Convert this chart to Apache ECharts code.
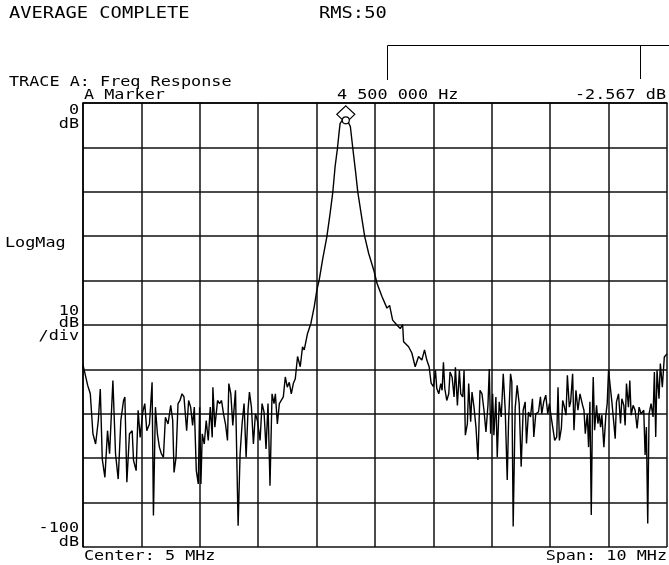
<!DOCTYPE html>
<html>
<head>
<meta charset="utf-8">
<script src="https://cdn.jsdelivr.net/npm/echarts@6/dist/echarts.min.js"></script>
<style>
  html, body { margin: 0; padding: 0; background: #fff; }
  #chart { width: 669px; height: 565px; }
</style>
</head>
<body>
<div id="chart"></div>
<script>
// trace A, frequency in MHz
const freqMHz = [
  0.00, 0.03, 0.08, 0.125, 0.17, 0.216, 0.262, 0.296, 0.33, 0.375, 0.42, 0.455, 0.512, 0.557, 0.603, 0.648,
  0.694, 0.717, 0.751, 0.796, 0.842, 0.865, 0.91, 0.944, 0.978, 1.024, 1.058, 1.092, 1.138, 1.183, 1.206, 1.24,
  1.274, 1.308, 1.342, 1.377, 1.411, 1.456, 1.502, 1.536, 1.559, 1.593, 1.627, 1.661, 1.695, 1.729, 1.775, 1.809,
  1.843, 1.877, 1.906, 1.94, 1.974, 1.997, 2.019, 2.042, 2.076, 2.11, 2.145, 2.179, 2.213, 2.224, 2.258, 2.304,
  2.338, 2.372, 2.406, 2.44, 2.474, 2.497, 2.531, 2.565, 2.611, 2.656, 2.69, 2.724, 2.758, 2.793, 2.827, 2.85,
  2.884, 2.918, 2.952, 2.986, 3.032, 3.066, 3.1, 3.134, 3.168, 3.202, 3.237, 3.271, 3.294, 3.328, 3.362, 3.396,
  3.43, 3.464, 3.498, 3.532, 3.567, 3.601, 3.635, 3.674, 3.72, 3.759, 3.788, 3.845, 3.903, 3.959, 4.005, 4.044,
  4.101, 4.176, 4.232, 4.278, 4.317, 4.357, 4.386, 4.403, 4.44, 4.47, 4.5, 4.54, 4.578, 4.62, 4.664, 4.705,
  4.761, 4.824, 4.892, 4.978, 5.034, 5.119, 5.205, 5.25, 5.302, 5.375, 5.432, 5.473, 5.49, 5.575, 5.631, 5.688,
  5.746, 5.802, 5.848, 5.887, 5.927, 5.961, 6.002, 6.035, 6.058, 6.092, 6.126, 6.149, 6.172, 6.195, 6.229, 6.263,
  6.285, 6.32, 6.354, 6.377, 6.411, 6.445, 6.468, 6.502, 6.525, 6.547, 6.582, 6.604, 6.638, 6.661, 6.695, 6.729,
  6.763, 6.798, 6.832, 6.866, 6.9, 6.934, 6.957, 6.98, 7.014, 7.036, 7.07, 7.093, 7.127, 7.162, 7.196, 7.23,
  7.264, 7.287, 7.321, 7.343, 7.366, 7.4, 7.434, 7.469, 7.503, 7.537, 7.571, 7.594, 7.628, 7.662, 7.696, 7.719,
  7.753, 7.799, 7.833, 7.855, 7.889, 7.924, 7.958, 7.986, 8.009, 8.043, 8.077, 8.112, 8.134, 8.157, 8.191, 8.214,
  8.237, 8.271, 8.294, 8.328, 8.35, 8.384, 8.407, 8.441, 8.475, 8.51, 8.532, 8.555, 8.578, 8.601, 8.635, 8.657,
  8.68, 8.703, 8.726, 8.737, 8.76, 8.794, 8.817, 8.84, 8.862, 8.885, 8.919, 8.953, 8.976, 8.999, 9.033, 9.056,
  9.09, 9.113, 9.135, 9.17, 9.204, 9.227, 9.261, 9.283, 9.306, 9.34, 9.363, 9.386, 9.42, 9.454, 9.488, 9.522,
  9.556, 9.602, 9.625, 9.647, 9.67, 9.693, 9.727, 9.761, 9.784, 9.807, 9.829, 9.863, 9.886, 9.92, 9.954, 10.0
];
// magnitude in dB, same order as freqMHz
const levelDb = [
  -59.0, -59.1, -63.6, -65.5, -74.5, -76.8, -71.5, -64.4, -80.2, -84.3, -73.8, -79.0, -62.5, -79.0, -84.7, -71.5,
  -67.0, -66.2, -85.4, -74.5, -73.8, -80.5, -82.8, -69.2, -75.3, -69.6, -67.7, -73.8, -72.3, -62.9, -92.9, -68.5,
  -74.5, -77.5, -79.0, -79.8, -70.8, -72.3, -68.1, -71.5, -83.2, -79.8, -67.7, -67.0, -65.5, -66.2, -73.8, -67.0,
  -68.5, -72.6, -68.5, -82.8, -85.8, -68.5, -85.8, -74.5, -76.8, -71.5, -76.0, -68.5, -75.3, -64.0, -73.0, -67.0,
  -67.7, -67.0, -70.0, -72.3, -76.0, -63.2, -65.5, -72.6, -64.7, -95.2, -79.0, -72.3, -67.7, -79.8, -68.9, -65.1,
  -68.5, -76.8, -70.0, -71.5, -76.0, -67.7, -69.6, -77.9, -67.7, -86.2, -65.5, -67.7, -65.5, -72.3, -67.7, -67.7,
  -66.2, -61.7, -64.0, -62.9, -65.5, -63.2, -62.1, -57.1, -59.4, -54.9, -55.6, -51.9, -49.6, -45.9, -42.1, -39.9,
  -35.4, -30.1, -24.8, -20.0, -14.3, -10.2, -6.5, -4.6, -3.9, -4.4, -3.9, -4.3, -5.3, -10.2, -15.1, -20.0,
  -24.8, -30.1, -33.9, -37.6, -40.6, -43.6, -46.2, -45.6, -48.9, -50.0, -50.8, -49.9, -53.8, -54.9, -56.3, -59.4,
  -57.1, -57.9, -55.6, -57.9, -59.4, -63.1, -63.9, -60.2, -64.3, -65.5, -63.2, -64.7, -58.4, -64.3, -67.0, -65.5,
  -60.6, -61.7, -66.2, -59.5, -68.1, -60.2, -65.5, -66.2, -60.2, -74.8, -72.2, -63.2, -71.8, -65.1, -68.5, -73.0,
  -80.4, -64.7, -65.5, -69.2, -74.1, -68.1, -59.9, -74.5, -65.5, -74.8, -66.2, -79.7, -67.3, -70.7, -61.0, -69.2,
  -84.9, -71.8, -61.0, -62.8, -95.4, -68.8, -63.6, -67.7, -81.9, -69.2, -67.3, -76.7, -69.6, -70.7, -66.6, -75.2,
  -70.0, -69.6, -66.2, -70.0, -67.3, -65.8, -70.0, -67.7, -70.0, -73.0, -76.0, -75.2, -64.0, -76.0, -73.3, -67.0,
  -68.1, -70.3, -61.3, -68.5, -67.3, -61.0, -73.7, -64.7, -69.2, -65.5, -65.8, -68.1, -69.2, -74.5, -70.0, -77.5,
  -67.3, -92.8, -67.3, -61.7, -73.7, -68.1, -72.2, -70.0, -73.0, -70.3, -77.5, -70.3, -67.7, -60.2, -60.6, -67.3,
  -72.2, -75.6, -67.3, -65.5, -72.2, -66.6, -68.1, -72.6, -63.2, -68.5, -62.5, -70.3, -68.1, -69.2, -73.3, -68.5,
  -70.0, -69.2, -79.3, -73.0, -94.7, -70.0, -67.7, -70.7, -60.6, -75.2, -60.2, -66.6, -58.7, -64.0, -57.2, -56.5
];
// marker A sits on the peak
const markerFreq = 4.5;
const markerDb = -3.9;

const FONT = '"DejaVu Sans Mono", monospace';

// text helper, sx stretches the glyphs sideways like the analyzer font
function txt(x, y, s, align, size, sx) {
  return {
    type: 'text',
    x: x,
    y: y,
    scaleX: sx || 1.2,
    silent: true,
    style: {
      text: s,
      x: 0,
      y: 0,
      font: (size || 14) + 'px ' + FONT,
      fill: '#000',
      align: align || 'left',
      verticalAlign: 'middle',
      textAlign: align || 'left',
      textVerticalAlign: 'middle'
    }
  };
}

const chart = echarts.init(document.getElementById('chart'));

const traceData = freqMHz.map((f, i) => [f, levelDb[i]]);

const option = {
  animation: false,
  backgroundColor: '#fff',
  grid: { left: 83, top: 103, right: 2, bottom: 18, containLabel: false },
  xAxis: {
    type: 'value',
    min: 0,
    max: 10,
    interval: 1,
    axisLabel: { show: false },
    axisTick: { show: false },
    axisLine: { show: true, lineStyle: { color: '#000', width: 1.5 } },
    splitLine: { show: true, lineStyle: { color: '#111', width: 1.5 } }
  },
  yAxis: {
    type: 'value',
    min: -100,
    max: 0,
    interval: 10,
    axisLabel: { show: false },
    axisTick: { show: false },
    axisLine: { show: true, lineStyle: { color: '#000', width: 1.5 } },
    splitLine: { show: true, lineStyle: { color: '#111', width: 1.5 } }
  },
  series: [
    {
      type: 'line',
      data: traceData,
      showSymbol: false,
      lineStyle: { color: '#000', width: 1.4 },
      markPoint: {
        silent: true,
        label: { show: false },
        data: [
          {
            coord: [markerFreq, markerDb],
            symbol: 'diamond',
            symbolSize: [18, 17],
            symbolOffset: [0, -6],
            itemStyle: { color: 'rgba(0,0,0,0)', borderColor: '#000', borderWidth: 1.2 }
          },
          {
            coord: [markerFreq, markerDb],
            symbol: 'circle',
            symbolSize: 7,
            itemStyle: { color: '#fff', borderColor: '#000', borderWidth: 1.2 }
          }
        ]
      }
    }
  ],
  graphic: [
    txt(9, 14, 'AVERAGE COMPLETE', 'left', 15, 1.25),
    txt(319, 14, 'RMS:50', 'left', 15, 1.25),
    txt(9, 82, 'TRACE A: Freq Response'),
    txt(84, 95, 'A Marker'),
    txt(337, 95, '4 500 000 Hz'),
    txt(666, 95, '-2.567 dB', 'right'),
    txt(79, 110, '0', 'right'),
    txt(79, 124, 'dB', 'right'),
    txt(5, 243, 'LogMag'),
    txt(79, 311, '10', 'right'),
    txt(79, 323, 'dB', 'right'),
    txt(79, 336, '/div', 'right'),
    txt(79, 528, '-100', 'right'),
    txt(79, 542, 'dB', 'right'),
    txt(84, 556, 'Center: 5 MHz'),
    txt(667, 556, 'Span: 10 MHz', 'right'),
    // marker readout bracket
    {
      type: 'polyline',
      silent: true,
      shape: { points: [[387.5, 80], [387.5, 45.5], [669, 45.5]] },
      style: { stroke: '#000', lineWidth: 1, fill: null }
    },
    {
      type: 'line',
      silent: true,
      shape: { x1: 640.5, y1: 45.5, x2: 640.5, y2: 79 },
      style: { stroke: '#000', lineWidth: 1 }
    }
  ]
};

chart.setOption(option);
</script>
</body>
</html>
